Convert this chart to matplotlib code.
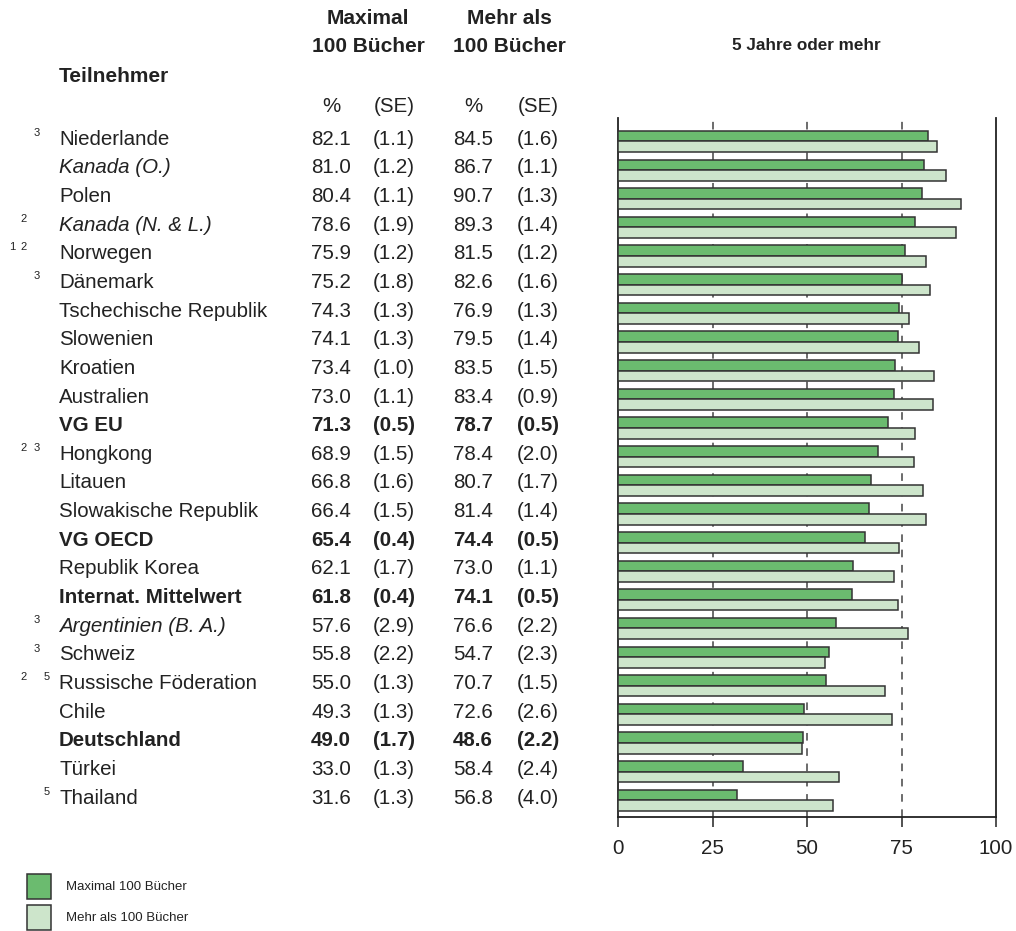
import matplotlib
matplotlib.use("Agg")
import matplotlib.pyplot as plt
import matplotlib.transforms as mtransforms
from matplotlib.patches import Rectangle
import numpy as np

plt.rcParams['font.family'] = ['Liberation Sans', 'DejaVu Sans']

countries = ["Niederlande", "Kanada (O.)", "Polen", "Kanada (N. & L.)", "Norwegen",
             "Dänemark", "Tschechische Republik", "Slowenien", "Kroatien", "Australien",
             "VG EU", "Hongkong", "Litauen", "Slowakische Republik", "VG OECD",
             "Republik Korea", "Internat. Mittelwert", "Argentinien (B. A.)", "Schweiz",
             "Russische Föderation", "Chile", "Deutschland", "Türkei", "Thailand"]
footnotes = ["3", "", "", "2", "1 2", "3", "", "", "", "", "", "2 3", "", "", "",
             "", "", "3", "3", "2 5", "", "", "", "5"]
styles = ["n", "i", "n", "i", "n", "n", "n", "n", "n", "n", "b", "n", "n", "n", "b",
          "n", "b", "i", "n", "n", "n", "b", "n", "n"]
pct_max100 = [82.1, 81.0, 80.4, 78.6, 75.9, 75.2, 74.3, 74.1, 73.4, 73.0, 71.3, 68.9,
              66.8, 66.4, 65.4, 62.1, 61.8, 57.6, 55.8, 55.0, 49.3, 49.0, 33.0, 31.6]
se_max100 = [1.1, 1.2, 1.1, 1.9, 1.2, 1.8, 1.3, 1.3, 1.0, 1.1, 0.5, 1.5, 1.6, 1.5, 0.4,
             1.7, 0.4, 2.9, 2.2, 1.3, 1.3, 1.7, 1.3, 1.3]
pct_more100 = [84.5, 86.7, 90.7, 89.3, 81.5, 82.6, 76.9, 79.5, 83.5, 83.4, 78.7, 78.4,
               80.7, 81.4, 74.4, 73.0, 74.1, 76.6, 54.7, 70.7, 72.6, 48.6, 58.4, 56.8]
se_more100 = [1.6, 1.1, 1.3, 1.4, 1.2, 1.6, 1.3, 1.4, 1.5, 0.9, 0.5, 2.0, 1.7, 1.4, 0.5,
              1.1, 0.5, 2.2, 2.3, 1.5, 2.6, 2.2, 2.4, 4.0]
x_ticks = [0, 25, 50, 75, 100]
grid_vals = [25, 50, 75]

DARK = "#6bbb6f"
LIGHT = "#cde5cb"
EDGE = "#333333"
W, H = 1016, 931

fig = plt.figure(figsize=(W / 100, H / 100), dpi=100)
ax = fig.add_axes([618 / W, 1 - 817 / H, (996 - 618) / W, (817 - 118) / H])

n = len(countries)
y = np.arange(n)
bh = 0.37
ax.barh(y - bh / 2, pct_max100, height=bh, color=DARK, edgecolor=EDGE, linewidth=1.1, zorder=3)
ax.barh(y + bh / 2, pct_more100, height=bh, color=LIGHT, edgecolor=EDGE, linewidth=1.1, zorder=3)
for g in grid_vals:
    ax.axvline(g, color="#444444", linestyle=(0, (5, 5)), linewidth=1.1, zorder=1)

fs = 14.8
txtc = "#222222"
ax.set_xlim(0, 100)
ax.set_ylim(23.58, -0.82)
ax.set_xticks(x_ticks)
ax.set_xticklabels([str(t) for t in x_ticks], fontsize=fs, color=txtc)
ax.tick_params(axis="x", length=7, width=1.1, direction="out", pad=9, colors=txtc)
ax.tick_params(axis="y", left=False, labelleft=False)
ax.spines["top"].set_visible(False)
for s in ["left", "right", "bottom"]:
    ax.spines[s].set_linewidth(1.3)
    ax.spines[s].set_color(txtc)

tr = mtransforms.blended_transform_factory(fig.transFigure, ax.transData)
foot_x = {"1": 12, "2": 24, "3": 37, "5": 47}
col_x = [331, 394, 473, 538]
for i in range(n):
    wt = "bold" if styles[i] == "b" else "normal"
    st = "italic" if styles[i] == "i" else "normal"
    ax.text(59 / W, i - 0.08, countries[i], transform=tr, fontsize=fs, fontweight=wt,
            fontstyle=st, va="center", ha="left", color=txtc)
    for d in footnotes[i].split():
        ax.text(foot_x[d] / W, i - 0.3, d, transform=tr, fontsize=8, va="center",
                ha="center", color=txtc)
    vals = [f"{pct_max100[i]:.1f}", f"({se_max100[i]:.1f})",
            f"{pct_more100[i]:.1f}", f"({se_more100[i]:.1f})"]
    for xv, v in zip(col_x, vals):
        ax.text(xv / W, i - 0.08, v, transform=tr, fontsize=fs, fontweight=wt,
                va="center", ha="center", color=txtc)

def ft(x, yy, s, **kw):
    fig.text(x / W, 1 - yy / H, s, color=txtc, va="center", **kw)

hfs = 15
ft(368, 18, "Maximal", fontsize=hfs, fontweight="bold", ha="center")
ft(368, 46, "100 Bücher", fontsize=hfs, fontweight="bold", ha="center")
ft(509, 18, "Mehr als", fontsize=hfs, fontweight="bold", ha="center")
ft(509, 46, "100 Bücher", fontsize=hfs, fontweight="bold", ha="center")
ft(806, 46, "5 Jahre oder mehr", fontsize=12.3, fontweight="bold", ha="center")
ft(59, 76, "Teilnehmer", fontsize=hfs, fontweight="bold", ha="left")
for xv, s in zip(col_x, ["%", "(SE)", "%", "(SE)"]):
    ft(xv, 106, s, fontsize=fs, ha="center")

# legend
for yy, c, lab in [(874, DARK, "Maximal 100 Bücher"), (905, LIGHT, "Mehr als 100 Bücher")]:
    fig.patches.append(Rectangle((27 / W, 1 - (yy + 25) / H), 24 / W, 25 / H,
                                 transform=fig.transFigure, facecolor=c,
                                 edgecolor=EDGE, linewidth=1.1))
    ft(66, yy + 13, lab, fontsize=9.5, ha="left")

fig.savefig("out.png", dpi=100)
